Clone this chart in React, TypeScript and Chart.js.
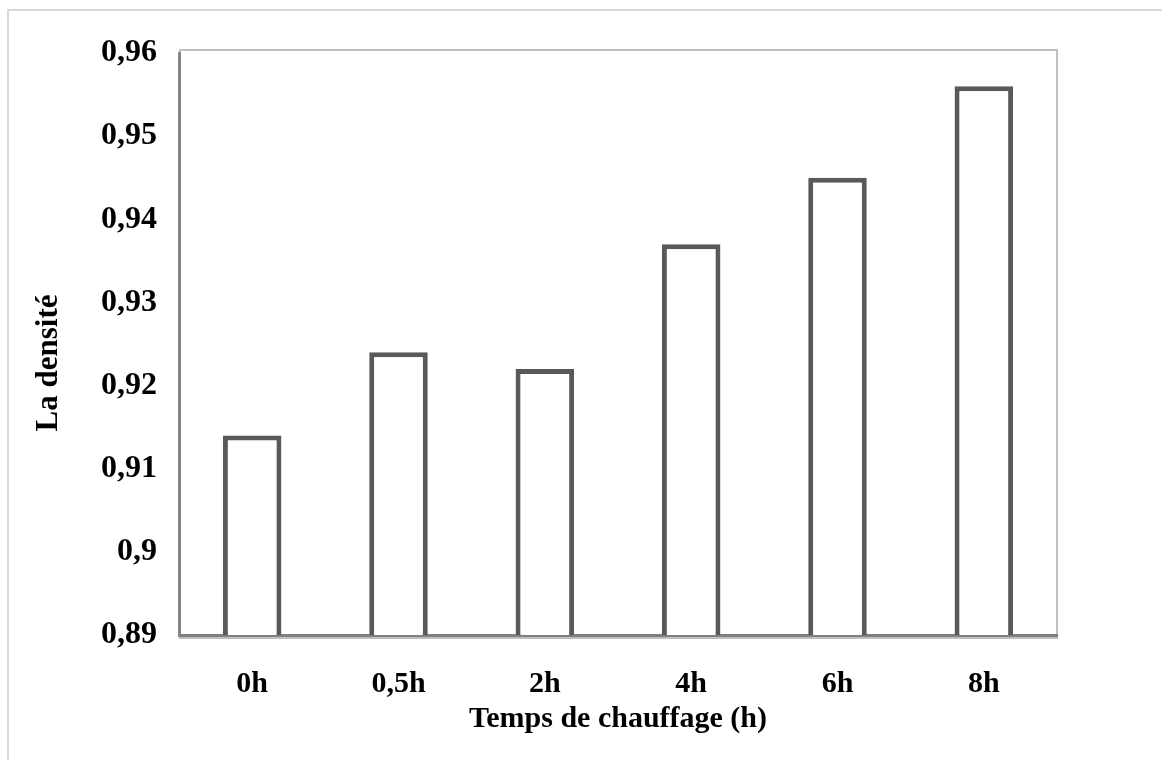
import React, { useEffect, useRef } from "react";
import { Chart, registerables } from "chart.js";

Chart.register(...registerables);

// Heating time categories and measured density
const categories: string[] = ["0h", "0,5h", "2h", "4h", "6h", "8h"];
const densities: number[] = [0.914, 0.924, 0.922, 0.937, 0.945, 0.956];
const yTickLabels: string[] = ["0,89", "0,9", "0,91", "0,92", "0,93", "0,94", "0,95", "0,96"];
const xAxisTitle = "Temps de chauffage (h)";
const yAxisTitle = "La densité";

const W = 1162;
const H = 760;
const PLOT_RIGHT = 1057;
const PLOT_LEFT = 179;
const PLOT_TOP = 53;
const PLOT_BOTTOM = 635;
const SERIF = "'Liberation Serif', 'Times New Roman', serif";

const framePlugin = {
  id: "frame",
  beforeDraw(chart: any) {
    const ctx = chart.ctx;
    ctx.save();
    ctx.fillStyle = "#ffffff";
    ctx.fillRect(0, 0, W, H);
    // outer light frame
    ctx.strokeStyle = "#d9d9d9";
    ctx.lineWidth = 2;
    ctx.beginPath();
    ctx.moveTo(8, H);
    ctx.lineTo(8, 10);
    ctx.lineTo(W, 10);
    ctx.stroke();
    // plot area frame
    const a = chart.chartArea;
    ctx.strokeStyle = "#c0c0c0";
    ctx.lineWidth = 2;
    ctx.strokeRect(a.left + 1, a.top - 3, a.right - a.left - 1, a.bottom - a.top + 6);
    ctx.restore();
  },
  afterDraw(chart: any) {
    const ctx = chart.ctx;
    const a = chart.chartArea;
    ctx.save();
    ctx.fillStyle = "#000000";
    ctx.font = `bold 30px ${SERIF}`;
    ctx.textAlign = "center";
    ctx.textBaseline = "middle";
    ctx.fillText(xAxisTitle, (a.left + a.right) / 2, 719);
    ctx.translate(49, 363);
    ctx.rotate(-Math.PI / 2);
    ctx.font = `bold 31px ${SERIF}`;
    ctx.fillText(yAxisTitle, 0, 0);
    ctx.restore();
  },
};

export default function App() {
  const canvasRef = useRef<HTMLCanvasElement | null>(null);

  useEffect(() => {
    document.body.style.margin = "0";
    const canvas = canvasRef.current;
    if (!canvas) return;
    const chart = new Chart(canvas, {
      type: "bar",
      data: {
        labels: categories,
        datasets: [
          {
            data: densities,
            backgroundColor: "#ffffff",
            borderColor: "#595959",
            borderWidth: 5,
            borderSkipped: false,
            barPercentage: 0.8,
            categoryPercentage: 0.5,
          },
        ],
      },
      options: {
        responsive: false,
        animation: false,
        maintainAspectRatio: false,
        layout: {
          padding: { top: PLOT_TOP, right: W - PLOT_RIGHT, bottom: 0, left: 0 },
        },
        plugins: {
          legend: { display: false },
          tooltip: { enabled: false },
        },
        scales: {
          x: {
            grid: { display: false, drawTicks: false },
            border: { display: true, color: "#808080", width: 3 },
            ticks: {
              color: "#000000",
              padding: 31,
              font: { family: SERIF, size: 30, weight: "bold" },
            },
            afterFit: (scale: any) => {
              scale.height = H - PLOT_BOTTOM;
            },
          },
          y: {
            min: 0.89,
            max: 0.96,
            grid: { display: false, drawTicks: false },
            border: { display: true, color: "#868686", width: 3 },
            ticks: {
              stepSize: 0.01,
              color: "#000000",
              padding: 22,
              font: { family: SERIF, size: 32, weight: "bold" },
              callback: (_v: any, i: number) => yTickLabels[i],
            },
            afterFit: (scale: any) => {
              scale.width = PLOT_LEFT;
            },
          },
        },
      },
      plugins: [framePlugin],
    });
    return () => chart.destroy();
  }, []);

  return (
    <div style={{ width: W, height: H, position: "relative" }}>
      <canvas ref={canvasRef} width={W} height={H} style={{ display: "block", width: W, height: H }} />
    </div>
  );
}
